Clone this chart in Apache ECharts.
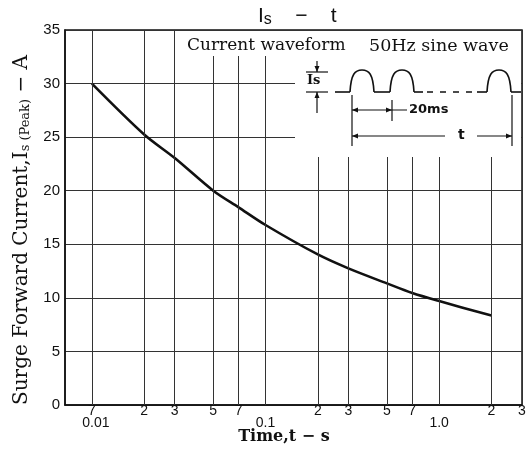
<!DOCTYPE html>
<html>
<head>
<meta charset="utf-8">
<script src="https://cdn.jsdelivr.net/npm/echarts@6/dist/echarts.min.js"></script>
<style>
html,body{margin:0;padding:0;background:#fff;}
#c{width:527px;height:458px;}
</style>
</head>
<body>
<div id="c"></div>
<script>
// Data
const timeS = [0.01, 0.02, 0.03, 0.05, 0.07, 0.1, 0.2, 0.3, 0.5, 0.7, 1.0, 2.0];
const surgeA = [30, 25.25, 23.05, 20, 18.45, 16.8, 14.05, 12.75, 11.35, 10.45, 9.7, 8.35];
// Log-grid positions and their labels
const gridTimes = [0.007, 0.01, 0.02, 0.03, 0.05, 0.07, 0.1, 0.2, 0.3, 0.5, 0.7, 1, 2, 3];
const gridLabels = ['7', '0.01', '2', '3', '5', '7', '0.1', '2', '3', '5', '7', '1.0', '2', '3'];
const decadeLabels = ['0.01', '0.1', '1.0'];
const yTicks = {min: 0, max: 35, interval: 5};

const chart = echarts.init(document.getElementById('c'), null, {renderer: 'canvas'});

const lineCol = '#111';
const gridCol = '#333';

const markData = gridTimes.map((t, i) => {
  const lab = gridLabels[i];
  const isDecade = decadeLabels.includes(lab);
  return {
    xAxis: t,
    label: {
      formatter: lab,
      distance: isDecade ? 11 : -1,
      offset: lab === '0.01' ? [4, 0] : [0, 0]
    }
  };
});

function arrowHead(x, y, dir) {
  const s = 6, w = 2.5;
  let pts;
  if (dir === 'l') pts = [[x, y], [x + s, y - w], [x + s, y + w]];
  if (dir === 'r') pts = [[x, y], [x - s, y - w], [x - s, y + w]];
  if (dir === 'u') pts = [[x, y], [x - w, y + s], [x + w, y + s]];
  if (dir === 'd') pts = [[x, y], [x - w, y - s], [x + w, y - s]];
  return {type: 'polygon', z: 60, shape: {points: pts}, style: {fill: lineCol}};
}
function seg(x1, y1, x2, y2, w) {
  return {type: 'line', z: 60, shape: {x1, y1, x2, y2}, style: {stroke: lineCol, lineWidth: w || 1.2}};
}
function pulse(x0) {
  const st = {stroke: lineCol, lineWidth: 1.6, fill: null};
  return [
    {type: 'bezierCurve', z: 60, shape: {x1: x0, y1: 92, cpx1: x0 + 1, cpy1: 74, cpx2: x0 + 5, cpy2: 70, x2: x0 + 12, y2: 70}, style: st},
    {type: 'bezierCurve', z: 60, shape: {x1: x0 + 12, y1: 70, cpx1: x0 + 19, cpy1: 70, cpx2: x0 + 23, cpy2: 74, x2: x0 + 24, y2: 92}, style: st}
  ];
}

const option = {
  backgroundColor: '#fff',
  animation: false,
  title: {
    text: 'I{s|s}    −    t',
    left: 253,
    top: 0,
    textStyle: {
      fontFamily: 'Liberation Sans',
      fontWeight: 'normal',
      fontSize: 21,
      color: lineCol,
      rich: {
        s: {fontFamily: 'Liberation Sans', fontSize: 16, color: lineCol, verticalAlign: 'bottom', padding: [7, 0, 0, 0]}
      }
    }
  },
  grid: {
    left: 65, right: 5, top: 30, bottom: 53,
    show: true, borderColor: lineCol, borderWidth: 1.5, backgroundColor: 'transparent'
  },
  xAxis: {
    type: 'log',
    logBase: 10,
    min: 0.007,
    max: 3,
    axisLine: {show: true, lineStyle: {color: lineCol, width: 1.5}},
    axisTick: {show: false},
    axisLabel: {show: false},
    splitLine: {show: false},
    minorTick: {show: false}
  },
  yAxis: {
    type: 'value',
    min: yTicks.min,
    max: yTicks.max,
    interval: yTicks.interval,
    axisLine: {show: true, lineStyle: {color: lineCol, width: 1.5}},
    axisTick: {show: false},
    axisLabel: {fontFamily: 'Liberation Sans', fontSize: 15, color: lineCol, margin: 5},
    splitLine: {show: true, lineStyle: {color: gridCol, width: 1}}
  },
  series: [{
    type: 'line',
    data: timeS.map((t, i) => [t, surgeA[i]]),
    smooth: 0.3,
    symbol: 'none',
    lineStyle: {color: lineCol, width: 2.6},
    z: 3,
    markLine: {
      silent: true,
      symbol: 'none',
      animation: false,
      lineStyle: {color: gridCol, width: 1, type: 'solid'},
      label: {show: true, position: 'start', fontFamily: 'Liberation Sans', fontSize: 14, color: lineCol},
      emphasis: {disabled: true},
      data: markData
    }
  }],
  graphic: [
    {type: 'rect', z: 50, shape: {x: 181, y: 31, width: 340, height: 25}, style: {fill: '#fff'}},
    {type: 'rect', z: 50, shape: {x: 295, y: 31, width: 226, height: 126}, style: {fill: '#fff'}},
    {type: 'text', z: 60, x: 187, y: 37, style: {text: 'Current waveform', font: '17px "DejaVu Serif"', fill: lineCol}},
    {type: 'text', z: 60, x: 369, y: 37, style: {text: '50Hz sine wave', font: '17.5px "DejaVu Serif"', fill: lineCol}},
    {type: 'text', z: 60, x: 307, y: 74, style: {text: 'Is', font: 'bold 13px "DejaVu Serif"', fill: lineCol}},
    seg(306, 72, 328, 72), seg(306, 92, 328, 92),
    seg(317, 61, 317, 72), arrowHead(317, 72, 'd'),
    seg(317, 92, 317, 113), arrowHead(317, 92, 'u'),
    seg(335, 92, 350, 92, 1.6), ...pulse(350), seg(374, 92, 390, 92, 1.6), ...pulse(390), seg(414, 92, 423, 92, 1.6),
    {type: 'line', z: 60, shape: {x1: 427, y1: 92, x2: 477, y2: 92}, style: {stroke: lineCol, lineWidth: 1.6, lineDash: [6, 7]}},
    seg(477, 92, 487, 92, 1.6), ...pulse(487), seg(511, 92, 521, 92, 1.6),
    seg(352, 95, 352, 146), seg(512, 95, 512, 146), seg(392, 100, 392, 121),
    seg(352, 110, 407, 110), arrowHead(352, 110, 'l'), arrowHead(392, 110, 'r'),
    {type: 'text', z: 60, x: 409, y: 103, style: {text: '20ms', font: 'bold 13px "DejaVu Sans"', fill: lineCol}},
    seg(352, 136, 445, 136), arrowHead(352, 136, 'l'),
    seg(477, 136, 512, 136), arrowHead(512, 136, 'r'),
    {type: 'text', z: 60, x: 458, y: 128, style: {text: 't', font: 'bold 14px "DejaVu Sans"', fill: lineCol}},
    {type: 'text', z: 60, x: 284, y: 429, style: {text: 'Time,t − s', font: 'bold 16px "DejaVu Serif"', fill: lineCol, align: 'center'}},
    {
      type: 'text', z: 60, x: 22, y: 230, rotation: Math.PI / 2,
      style: {
        text: 'Surge Forward Current,I{s|s (Peak)} − A',
        fontFamily: 'DejaVu Serif', fontSize: 20, fill: lineCol,
        align: 'center', verticalAlign: 'middle',
        rich: {s: {fontFamily: 'DejaVu Serif', fontSize: 13, fill: lineCol, verticalAlign: 'bottom', padding: [7, 0, 0, 0]}}
      }
    }
  ]
};
chart.setOption(option);
</script>
</body>
</html>
